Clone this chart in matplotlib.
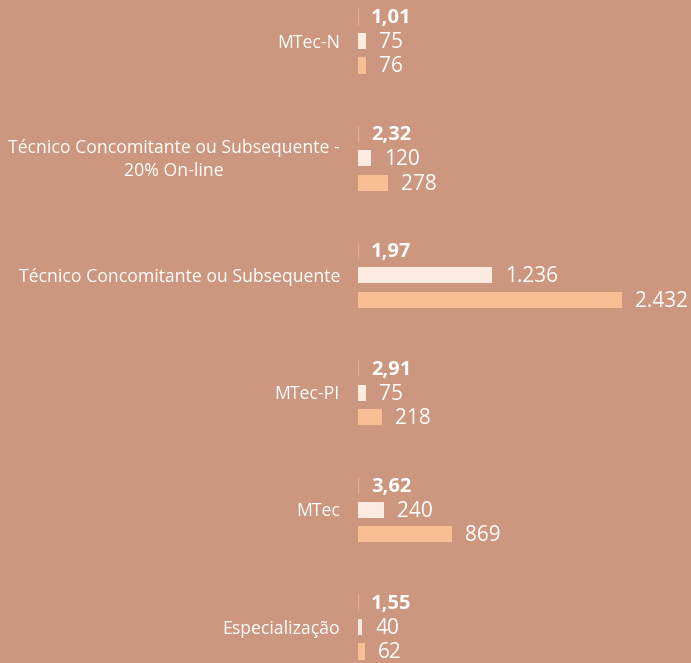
import matplotlib
matplotlib.use("Agg")
import matplotlib.pyplot as plt
import numpy as np

categories = ["MTec-N", "Técnico Concomitante ou Subsequente -\n20% On-line",
              "Técnico Concomitante ou Subsequente", "MTec-PI", "MTec", "Especialização"]
ratio = [1.01, 2.32, 1.97, 2.91, 3.62, 1.55]
vagas = [75, 120, 1236, 75, 240, 40]
inscritos = [76, 278, 2432, 218, 869, 62]

bg = "#cd967e"
c_ratio = "#dcb09c"
c_vagas = "#fcebe1"
c_insc = "#f8bf95"
txt = "#ffffff"
plt.rcParams["font.family"] = ["Open Sans", "DejaVu Sans"]


def fmt_int(v):
    return f"{v:,}".replace(",", ".")


def fmt_dec(v):
    return f"{v:.2f}".replace(".", ",")


fig = plt.figure(figsize=(6.91, 6.63), dpi=100, facecolor=bg)
ax = fig.add_axes([358 / 691, 0, 333 / 691, 1])
ax.set_facecolor(bg)

y = np.arange(len(categories))
step = 0.209
h = 0.137
ax.barh(y - step, ratio, height=h, color=c_ratio, edgecolor=c_ratio, linewidth=1.0)
ax.barh(y, vagas, height=h, color=c_vagas, linewidth=0)
ax.barh(y + step, inscritos, height=h, color=c_insc, linewidth=0)

# pixels -> data units along x
xscale = 2432 / (622 - 358)
off = 13 * xscale
dy = 1.5 / 117.2
for i in range(len(categories)):
    ax.text(ratio[i] + off, y[i] - step + dy, fmt_dec(ratio[i]), va="center", ha="left",
            color=txt, fontsize=14.5, fontweight="bold")
    ax.text(vagas[i] + off, y[i] + dy, fmt_int(vagas[i]), va="center", ha="left",
            color=txt, fontsize=15)
    ax.text(inscritos[i] + off, y[i] + step + dy, fmt_int(inscritos[i]), va="center", ha="left",
            color=txt, fontsize=15)
    ax.text(-18 * xscale, y[i] + dy, categories[i], va="center", ha="right", color=txt,
            fontsize=12.7, multialignment="center", linespacing=1.35, clip_on=False)

ax.set_xlim(0, 333 * xscale)
ax.set_ylim(5 + 36 / 117.2, -41 / 117.2)
ax.axis("off")

fig.savefig("out.png", dpi=100, facecolor=bg)
